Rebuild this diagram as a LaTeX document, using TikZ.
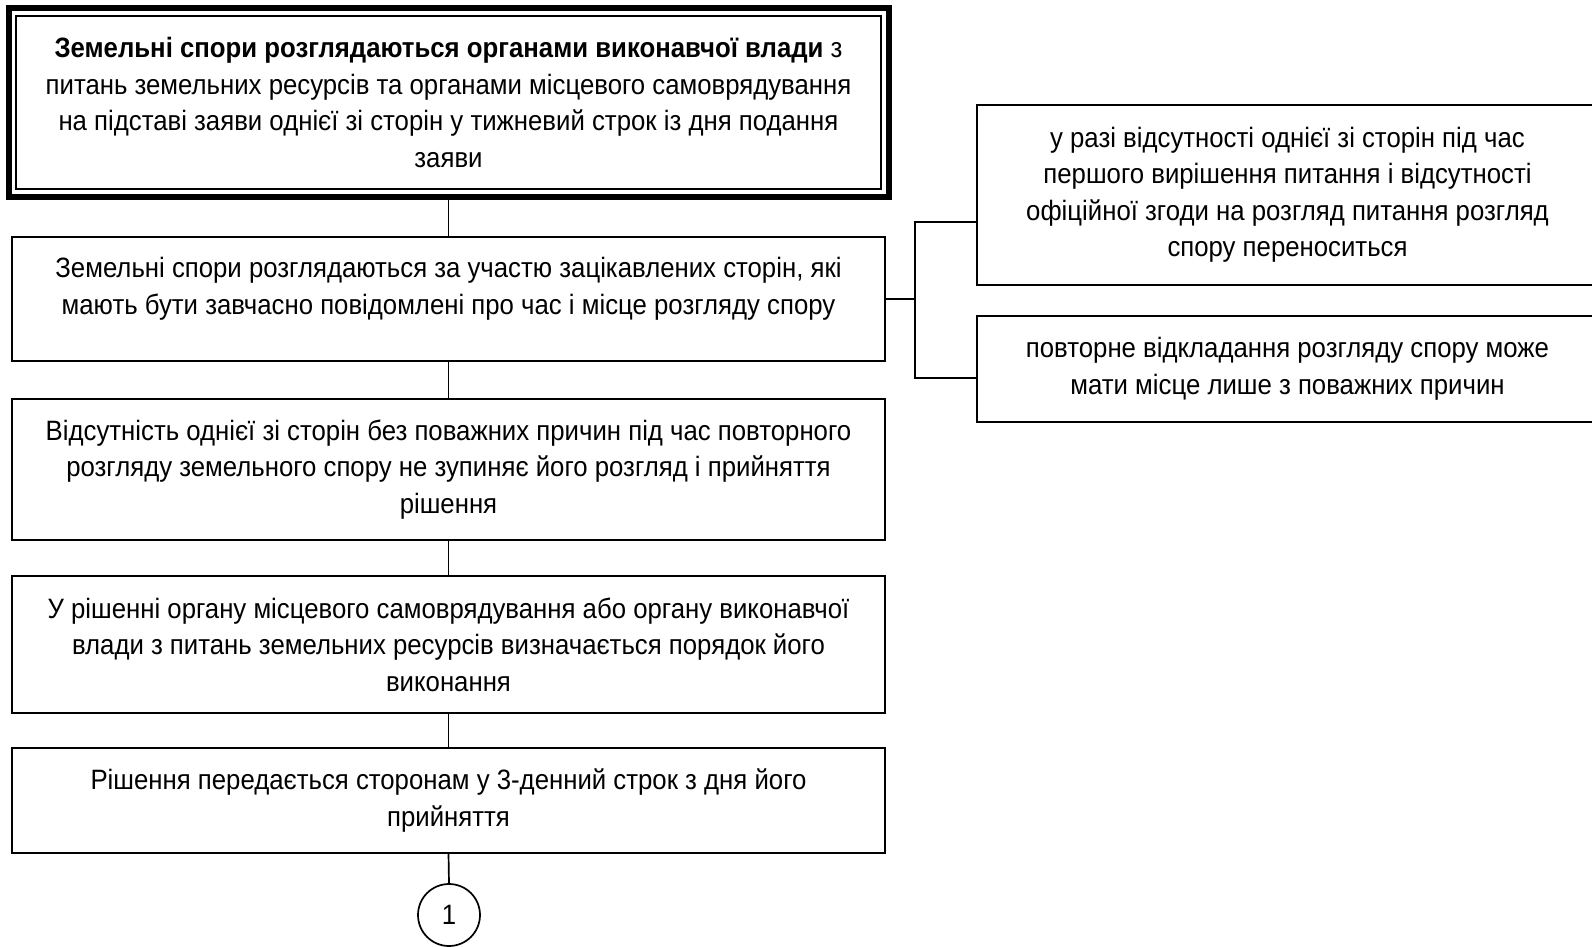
\documentclass[tikz,border=0pt]{standalone}
\usepackage{fontspec}
\setmainfont{Liberation Sans}[FakeStretch=0.92]
\begin{document}
\begin{tikzpicture}[x=1pt,y=-1pt,
  txtfont/.style={font=\fontsize{28}{36.5}\selectfont},
  box/.style={draw=black, line width=1.7pt, inner sep=0pt, outer sep=0pt, align=center, txtfont},
  txt/.style={inner sep=0pt, align=center, txtfont},
  link/.style={draw=black, line width=1.7pt}]
\useasboundingbox (0,0) rectangle (1592,947);
\fill[white] (0,0) rectangle (1592,947);

\node[box, line width=6pt, minimum width=880pt, minimum height=188pt] (b1) at (448.5,102.5)
 {\textbf{Земельні спори розглядаються органами виконавчої влади} з\\
  питань земельних ресурсів та органами місцевого самоврядування\\
  на підставі заяви однієї зі сторін у тижневий строк із дня подання\\
  заяви};
\draw[line width=1.8pt] ([xshift=7.5pt,yshift=-7.5pt]b1.north west) rectangle ([xshift=-7.5pt,yshift=7.5pt]b1.south east);

\node[box, minimum width=873pt, minimum height=124pt] (b2) at (448.5,299) {};
\node[txt] (t2) at ([yshift=10pt]b2.center)
 {Земельні спори розглядаються за участю зацікавлених сторін, які\\
  мають бути завчасно повідомлені про час і місце розгляду спору};

\node[box, minimum width=873pt, minimum height=141pt] (b3) at (448.5,469.5)
 {Відсутність однієї зі сторін без поважних причин під час повторного\\
  розгляду земельного спору не зупиняє його розгляд і прийняття\\
  рішення};

\node[box, minimum width=873pt, minimum height=137pt] (b4) at (448.5,644.5)
 {У рішенні органу місцевого самоврядування або органу виконавчої\\
  влади з питань земельних ресурсів визначається порядок його\\
  виконання};

\node[box, minimum width=873pt, minimum height=105pt] (b5) at (448.5,800.5)
 {Рішення передається сторонам у 3-денний строк з дня його\\
  прийняття};

\node[box, circle, minimum size=62pt] (c1) at (449,915) {1};

\node[box, minimum width=621pt, minimum height=180pt] (r1) at (1287.5,195)
 {у разі відсутності однієї зі сторін під час\\
  першого вирішення питання і відсутності\\
  офіційної згоди на розгляд питання розгляд\\
  спору переноситься};

\node[box, minimum width=621pt, minimum height=106pt] (r2) at (1287.5,369)
 {повторне відкладання розгляду спору може\\
  мати місце лише з поважних причин};

\draw[link] (b1.south) -- (b2.north);
\draw[link] (b2.south) -- (b3.north);
\draw[link] (b3.south) -- (b4.north);
\draw[link] (b4.south) -- (b5.north);
\draw[link] (b5.south) -- (c1.north);

\coordinate (jm) at (915,299);
\coordinate (jt) at (915,222);
\coordinate (jb) at (915,378);
\draw[link] (b2.east) -- (jm);
\draw[link] (jt -| r1.west) -- (jt) -- (jb) -- (jb -| r2.west);
\end{tikzpicture}
\end{document}
